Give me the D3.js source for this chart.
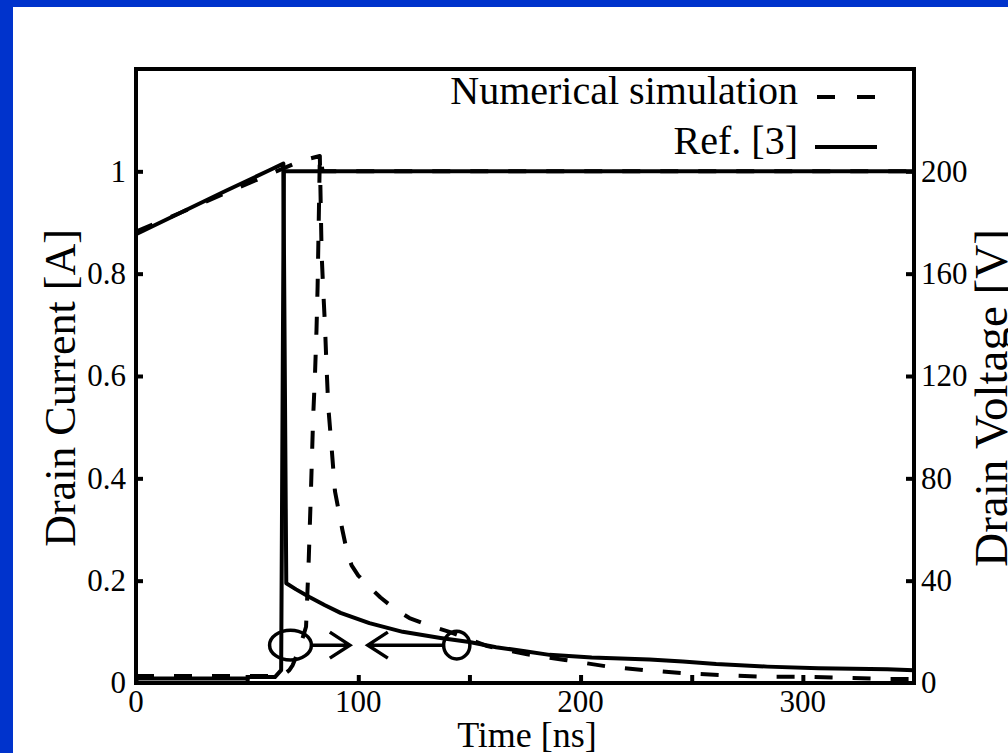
<!DOCTYPE html>
<html lang="en">
<head>
	<meta charset="utf-8">
	<title> Drain current / voltage </title>
	<script src="https://d3js.org/d3.v7.min.js"></script>
	<style type="text/css">
		body{ margin: 0; overflow: hidden; }
		svg{ display: block; }
		text{ font-family: "Liberation Serif", "Times New Roman", serif; fill: #000; }
	</style>
</head>
<body>
	<svg id="chart" width="1008" height="753"></svg>

	<script type="text/javascript">

	// ---- data ----
	// Ref. [3] (solid)
	var refCurrentT = [0, 20, 40, 60, 66.3, 67.6, 72, 78, 85, 92, 105, 120, 137, 150, 162, 175, 186, 205, 231, 246, 261, 284, 307, 338, 350]
	var refCurrentA = [0.877, 0.919, 0.961, 1.002, 1.015, 0.195, 0.183, 0.168, 0.152, 0.137, 0.117, 0.1, 0.088, 0.08, 0.07, 0.062, 0.055, 0.05, 0.046, 0.042, 0.037, 0.032, 0.029, 0.027, 0.025]
	var refVoltageT = [0, 50, 51, 62.5, 65.3, 66.5, 350]
	var refVoltageV = [1.8, 1.8, 2.3, 2.3, 5, 200, 200]

	// Numerical simulation (dashed)
	var simCurrentT = [0, 20, 40, 60, 74.5, 82.7, 83.5, 84.2, 85, 85.7, 86.5, 88, 89.5, 92.8, 95, 97, 100, 105, 110, 116, 123, 132, 141, 158, 176, 193, 211, 229, 247, 265, 283, 301, 319, 337, 350]
	var simCurrentA = [0.882, 0.919, 0.957, 0.994, 1.021, 1.03, 0.84, 0.77, 0.7, 0.62, 0.54, 0.46, 0.375, 0.3, 0.255, 0.23, 0.21, 0.188, 0.167, 0.146, 0.127, 0.112, 0.1, 0.072, 0.056, 0.045, 0.033, 0.025, 0.019, 0.015, 0.012, 0.012, 0.01, 0.008, 0.008]
	var simVoltageT = [0, 30, 60, 66, 69, 70.5, 73.7, 76.5, 77.7, 78.7, 79.7, 80.5, 81.2, 81.7, 82.2, 82.7, 84, 350]
	var simVoltageV = [2.7, 2.7, 2.7, 3, 5, 7, 14, 22, 48, 75, 104, 120, 138, 155, 180, 206, 200, 200]

	// axes
	var xDomain = [0, 350]
	var xTicks = [0, 50, 100, 150, 200, 250, 300]
	var xLabels = [0, 100, 200, 300]
	var leftDomain = [0, 1.2]
	var leftTicks = [0, 0.2, 0.4, 0.6, 0.8, 1]
	var rightDomain = [0, 240]
	var rightTicks = [0, 40, 80, 120, 160, 200]

	// annotation: ellipse, circle and arrows (data units)
	var markT = [69.5, 144.3]
	var markRadT = [9.4, 5.9]
	var markRadA = [0.029, 0.027]
	var markA = 0.074
	var arrowFromT = [79, 139]
	var arrowToT = [96.2, 104.3]

	var legendNames = ["Numerical simulation", "Ref. [3]"]

	// ---- layout ----
	var W = 1008, H = 753
	var margin = {top: 69, bottom: 70, left: 136, right: 94}
	var plotR = W - margin.right
	var plotB = H - margin.bottom

	var x = d3.scaleLinear().domain(xDomain).range([margin.left, plotR])
	var yA = d3.scaleLinear().domain(leftDomain).range([plotB, margin.top])
	var yV = d3.scaleLinear().domain(rightDomain).range([plotB, margin.top])

	var svg = d3.select("#chart")

	svg.append("rect").attr("width", W).attr("height", H).attr("fill", "#0033cc")
	svg.append("rect").attr("x", 13).attr("y", 7).attr("width", W).attr("height", H).attr("fill", "#fff")

	var zip = (ts, vs) => ts.map((t, i) => [t, vs[i]])

	var lineA = d3.line().x(d => x(d[0])).y(d => yA(d[1]))
	var lineV = d3.line().x(d => x(d[0])).y(d => yV(d[1]))

	var series = [
		{pts: zip(refVoltageT, refVoltageV), line: lineV, dash: null},
		{pts: zip(refCurrentT, refCurrentA), line: lineA, dash: null},
		{pts: zip(simVoltageT, simVoltageV), line: lineV, dash: "18,20"},
		{pts: zip(simCurrentT, simCurrentA), line: lineA, dash: "18,20"}
	]

	svg.append("g")
		.attr("fill", "none")
		.attr("stroke", "#000")
		.attr("stroke-width", 4)
		.selectAll("path")
		.data(series)
		.join("path")
		.attr("stroke-dasharray", d => d.dash)
		.attr("stroke-linejoin", "round")
		.attr("d", d => d.line(d.pts))

	// annotation
	var ann = svg.append("g").attr("fill", "none").attr("stroke", "#000").attr("stroke-width", 3.5)
	ann.selectAll("ellipse")
		.data(markT)
		.join("ellipse")
		.attr("cx", d => x(d))
		.attr("cy", yA(markA))
		.attr("rx", (d, i) => x(markRadT[i]) - x(0))
		.attr("ry", (d, i) => yA(0) - yA(markRadA[i]))
	ann.selectAll("path")
		.data(arrowFromT)
		.join("path")
		.attr("d", (d, i) => {
			var x0 = x(d), x1 = x(arrowToT[i]), y0 = yA(markA)
			var s = x1 > x0 ? 1 : -1
			return "M" + x0 + "," + y0 + "H" + x1 +
				"M" + (x1 - s * 20) + "," + (y0 - 13) + "L" + x1 + "," + y0 + "L" + (x1 - s * 20) + "," + (y0 + 13)
		})

	// frame
	svg.append("rect")
		.attr("x", margin.left).attr("y", margin.top)
		.attr("width", plotR - margin.left).attr("height", plotB - margin.top)
		.attr("fill", "none").attr("stroke", "#000").attr("stroke-width", 4)

	// axes
	var tickFont = 31
	var gx = svg.append("g").attr("transform", "translate(0," + plotB + ")")
		.call(d3.axisTop(x).tickValues(xTicks).tickSize(8).tickFormat(""))
	gx.select(".domain").remove()
	gx.selectAll("line").attr("stroke-width", 4)
	svg.append("g").selectAll("text")
		.data(xLabels)
		.join("text")
		.attr("x", d => x(d))
		.attr("y", plotB + 29)
		.attr("text-anchor", "middle")
		.attr("font-size", tickFont)
		.text(d => d)

	var gl = svg.append("g").attr("transform", "translate(" + margin.left + ",0)")
		.call(d3.axisRight(yA).tickValues(leftTicks.filter(d => d > 0)).tickSize(7).tickFormat(""))
	gl.select(".domain").remove()
	gl.selectAll("line").attr("stroke-width", 4)
	svg.append("g").selectAll("text")
		.data(leftTicks)
		.join("text")
		.attr("x", margin.left - 10)
		.attr("y", d => yA(d))
		.attr("dy", "0.33em")
		.attr("text-anchor", "end")
		.attr("font-size", tickFont)
		.text(d3.format(""))

	var gr = svg.append("g").attr("transform", "translate(" + plotR + ",0)")
		.call(d3.axisLeft(yV).tickValues(rightTicks.filter(d => d > 0)).tickSize(8).tickFormat(""))
	gr.select(".domain").remove()
	gr.selectAll("line").attr("stroke-width", 4)
	svg.append("g").selectAll("text")
		.data(rightTicks)
		.join("text")
		.attr("x", plotR + 7)
		.attr("y", d => yV(d))
		.attr("dy", "0.33em")
		.attr("text-anchor", "start")
		.attr("font-size", tickFont)
		.text(d => d)

	// axis titles
	svg.append("text")
		.attr("transform", "translate(75,388) rotate(-90)")
		.attr("text-anchor", "middle")
		.attr("font-size", 44)
		.text("Drain Current [A]")
	svg.append("text")
		.attr("transform", "translate(1007,398) rotate(-90)")
		.attr("text-anchor", "middle")
		.attr("font-size", 47)
		.text("Drain Voltage [V]")
	svg.append("text")
		.attr("x", 527)
		.attr("y", 747)
		.attr("text-anchor", "middle")
		.attr("font-size", 36)
		.text("Time [ns]")

	// legend
	var legY = [97, 147]
	var leg = svg.append("g")
	leg.selectAll("text")
		.data(legendNames)
		.join("text")
		.attr("x", 798)
		.attr("y", (d, i) => legY[i] + 7)
		.attr("text-anchor", "end")
		.attr("font-size", 40)
		.text(d => d)
	leg.selectAll("line")
		.data(legendNames)
		.join("line")
		.attr("x1", (d, i) => i === 0 ? 817 : 815)
		.attr("x2", 877)
		.attr("y1", (d, i) => legY[i])
		.attr("y2", (d, i) => legY[i])
		.attr("stroke", "#000")
		.attr("stroke-width", 4)
		.attr("stroke-dasharray", (d, i) => i === 0 ? "18,22" : null)

	</script>
</body>
</html>
